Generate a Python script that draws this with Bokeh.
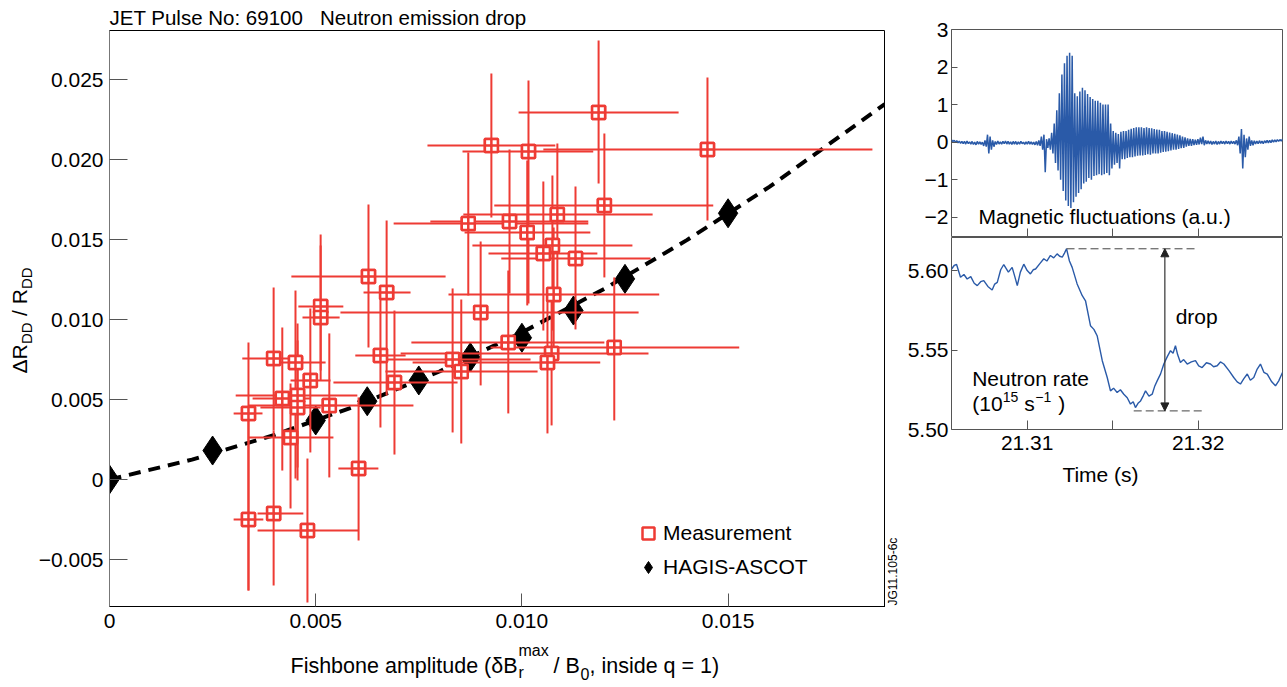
import math
from bokeh.plotting import figure
from bokeh.models import (Range1d, FixedTicker, Label, Legend, LegendItem, Arrow,
                          NormalHead, PrintfTickFormatter)
from bokeh.layouts import row, column
from bokeh.embed import file_html
from bokeh.resources import INLINE

FONT = "Liberation Sans"
RED = "#ee3b34"
BLUE = "#2a5aa8"

# ---------------- main panel data ----------------
meas_x = [0.01186, 0.00926, 0.01016, 0.01450, 0.01200, 0.00870, 0.00970, 0.01086, 0.01013,
          0.01074, 0.01052, 0.01130, 0.01077, 0.00900, 0.01224, 0.01072, 0.01062, 0.00967,
          0.00832, 0.00853, 0.00657, 0.00691, 0.00487, 0.00533, 0.00398, 0.00451, 0.00419,
          0.00456, 0.00456, 0.00337, 0.00439, 0.00604, 0.00337, 0.00398, 0.00480, 0.00512,
          0.00512, 0.00628, 0.00672]
meas_y = [0.02294, 0.02088, 0.02050, 0.02063, 0.01713, 0.01600, 0.01613, 0.01656, 0.01544,
          0.01463, 0.01413, 0.01381, 0.01156, 0.01044, 0.00825, 0.00788, 0.00731, 0.00856,
          0.00750, 0.00675, 0.00775, 0.00606, 0.00619, 0.00463, 0.00756, 0.00731, 0.00506,
          0.00525, 0.00450, 0.00413, 0.00263, 0.00069, -0.00250, -0.00213, -0.00319, 0.01081,
          0.01013, 0.01269, 0.01169]
meas_x_lo = [0.00992, 0.00771, 0.00856, 0.01052, 0.00933, 0.00689, 0.00778, 0.00858, 0.00861,
             0.00880, 0.00919, 0.00950, 0.00822, 0.00560, 0.00924, 0.00706, 0.00735, 0.00732,
             0.00669, 0.00669, 0.00596, 0.00543, 0.00439, 0.00337, 0.00322, 0.00398, 0.00347,
             0.00306, 0.00366, 0.00301, 0.00337, 0.00555, 0.00301, 0.00359, 0.00359, 0.00458,
             0.00468, 0.00441, 0.00616]
meas_x_hi = [0.01380, 0.01081, 0.01173, 0.01850, 0.01464, 0.01161, 0.01161, 0.01317, 0.01166,
             0.01268, 0.01183, 0.01312, 0.01333, 0.01283, 0.01527, 0.01307, 0.01190, 0.01200,
             0.01021, 0.01038, 0.00718, 0.00844, 0.00536, 0.00737, 0.00470, 0.00524, 0.00487,
             0.00601, 0.00512, 0.00371, 0.00543, 0.00652, 0.00373, 0.00470, 0.00604, 0.00567,
             0.00558, 0.00815, 0.00730]
meas_y_lo = [0.01850, 0.01638, 0.01100, 0.01619, 0.01263, 0.01150, 0.01163, 0.01200, 0.01088,
             0.00931, 0.00931, 0.00938, 0.00713, 0.00588, 0.00369, 0.00338, 0.00288, 0.00413,
             0.00294, 0.00225, 0.00325, 0.00156, 0.00169, 0.00013, 0.00306, 0.00006, 0.00056,
             0.00075, -0.00006, -0.00694, -0.00181, -0.00381, -0.00694, -0.00663, -0.00769,
             0.00681, 0.00619, 0.00825, 0.00525]
meas_y_hi = [0.02744, 0.02538, 0.02494, 0.02513, 0.02163, 0.02044, 0.02063, 0.02100, 0.01994,
             0.01900, 0.01863, 0.01831, 0.01575, 0.01488, 0.01263, 0.01181, 0.01119, 0.01306,
             0.01194, 0.01125, 0.01125, 0.01056, 0.01069, 0.00913, 0.01200, 0.01181, 0.00950,
             0.00975, 0.00869, 0.00856, 0.00600, 0.00513, 0.00388, 0.00306, 0.00131, 0.01531,
             0.01463, 0.01719, 0.01619]

sim_x = [0.0, 0.0025, 0.005, 0.00625, 0.0075, 0.00875, 0.010, 0.01125, 0.0125, 0.015]
sim_y = [0.0, 0.00181, 0.00369, 0.00489, 0.00619, 0.00764, 0.00886, 0.01056, 0.01254, 0.01664]

fit_x = [0.0, 0.002, 0.004, 0.006, 0.008, 0.010, 0.012, 0.014, 0.016, 0.0188]
fit_y = [0.0, 0.00124, 0.00278, 0.00462, 0.00675, 0.00919, 0.01192, 0.01496, 0.01829, 0.02346]

main_xticks = [0.0, 0.005, 0.010, 0.015]
main_xlabels = ["0", "0.005", "0.010", "0.015"]
main_yticks = [-0.005, 0.0, 0.005, 0.010, 0.015, 0.020, 0.025]
main_ylabels = ["\u22120.005", "0", "0.005", "0.010", "0.015", "0.020", "0.025"]

# ---------------- inset data ----------------
mag_t0 = 21.30558
mag_dt = 0.00015
mag_hi = [0.06, 0.05, 0.04, 0.03, 0.02, 0.02, 0.03, 0.01, 0.02, 0.0,
          0.02, 0.01, 0.0, 0.05, 0.2, 0.15, 0.05, 0.02, 0.03, 0.01,
          0.02, 0.03, 0.02, 0.01, 0.02, 0.02, 0.01, 0.02, 0.0, 0.01,
          0.02, 0.01, 0.0, 0.02, 0.05, 0.15, 0.2, 0.08, 0.1, 0.25,
          0.5, 0.85, 1.3, 1.8, 2.1, 2.3, 2.38, 2.3, 1.3, 1.22,
          1.35, 1.45, 1.38, 1.28, 1.2, 1.15, 1.1, 1.1, 1.05, 1.0,
          1.0, 1.0, 0.5, 0.3, 0.25, 0.22, 0.28, 0.3, 0.3, 0.33,
          0.36, 0.38, 0.4, 0.4, 0.4, 0.38, 0.4, 0.38, 0.37, 0.35,
          0.34, 0.33, 0.3, 0.3, 0.28, 0.26, 0.24, 0.22, 0.2, 0.18,
          0.15, 0.13, 0.1, 0.09, 0.08, 0.07, 0.08, 0.12, 0.15, 0.05,
          0.04, 0.03, 0.02, 0.03, 0.02, 0.03, 0.02, 0.03, 0.02, 0.03,
          0.02, 0.05, 0.15, 0.35, 0.2, 0.1, 0.15, 0.05, 0.04, 0.03,
          0.04, 0.03, 0.04, 0.05, 0.05, 0.06, 0.06, 0.07, 0.07, 0.08]
mag_lo = [0.02, 0.0, -0.02, -0.03, -0.04, -0.05, -0.04, -0.05, -0.06, -0.07,
          -0.05, -0.06, -0.1, -0.12, -0.3, -0.2, -0.12, -0.06, -0.05, -0.05,
          -0.04, -0.05, -0.05, -0.06, -0.05, -0.06, -0.05, -0.04, -0.06, -0.05,
          -0.05, -0.06, -0.07, -0.08, -0.1, -0.2, -0.8, -0.15, -0.2, -0.3,
          -0.55, -0.75, -1.0, -1.3, -1.55, -1.7, -1.75, -1.6, -1.45, -1.35,
          -1.25, -1.1, -1.05, -0.95, -1.0, -0.9, -0.88, -0.85, -0.88, -0.85,
          -0.82, -0.88, -0.7, -0.6, -0.55, -0.7, -0.45, -0.45, -0.42, -0.4,
          -0.4, -0.38, -0.36, -0.35, -0.35, -0.34, -0.32, -0.33, -0.3, -0.3,
          -0.3, -0.28, -0.26, -0.25, -0.24, -0.22, -0.2, -0.2, -0.18, -0.16,
          -0.15, -0.12, -0.1, -0.1, -0.08, -0.07, -0.06, -0.05, -0.08, -0.05,
          -0.05, -0.06, -0.05, -0.06, -0.05, -0.04, -0.05, -0.04, -0.05, -0.04,
          -0.05, -0.08, -0.3, -0.7, -0.4, -0.2, -0.1, -0.08, -0.05, -0.04,
          -0.03, -0.04, -0.02, -0.02, -0.01, 0.0, 0.01, 0.02, 0.03, 0.04]

neut_t = [21.30558, 21.30573, 21.30587, 21.30610, 21.30630, 21.30649, 21.30670, 21.30690,
          21.30708, 21.30728, 21.30746, 21.30770, 21.30795, 21.30810, 21.30825, 21.30845,
          21.30863, 21.30890, 21.30912, 21.30928, 21.30942, 21.30960, 21.30980, 21.31000,
          21.31019, 21.31035, 21.31049, 21.31075, 21.31097, 21.31115, 21.31136, 21.31155,
          21.31175, 21.31190, 21.31205, 21.31218, 21.31230, 21.31247, 21.31263, 21.31292,
          21.31322, 21.31341, 21.31370, 21.31390, 21.31409, 21.31439, 21.31468, 21.31487,
          21.31505, 21.31526, 21.31545, 21.31565, 21.31585, 21.31604, 21.31620, 21.31633,
          21.31648, 21.31663, 21.31680, 21.31692, 21.31712, 21.31731, 21.31745, 21.31760,
          21.31780, 21.31799, 21.31820, 21.31838, 21.31853, 21.31867, 21.31880, 21.31896,
          21.31915, 21.31936, 21.31960, 21.31984, 21.32003, 21.32023, 21.32048, 21.32072,
          21.32090, 21.32111, 21.32130, 21.32150, 21.32180, 21.32208, 21.32228, 21.32247,
          21.32267, 21.32287, 21.32305, 21.32325, 21.32345, 21.32364, 21.32384, 21.32404,
          21.32430, 21.32452, 21.32471, 21.32493]
neut_v = [5.6010, 5.6032, 5.6038, 5.5958, 5.5975, 5.5947, 5.5962, 5.5920,
          5.5905, 5.5930, 5.5937, 5.5900, 5.5878, 5.5915, 5.5926, 5.6005,
          5.6038, 5.5990, 5.6020, 5.5960, 5.5905, 5.5990, 5.6040, 5.6000,
          5.5979, 5.6005, 5.6010, 5.6045, 5.6074, 5.6060, 5.6095, 5.6080,
          5.6105, 5.6090, 5.6084, 5.6110, 5.6137, 5.6060, 5.6020, 5.5916,
          5.5842, 5.5810, 5.5653, 5.5630, 5.5590, 5.5433, 5.5327, 5.5243,
          5.5260, 5.5233, 5.5250, 5.5222, 5.5200, 5.5160, 5.5175, 5.5138,
          5.5165, 5.5180, 5.5215, 5.5243, 5.5210, 5.5222, 5.5270, 5.5306,
          5.5350, 5.5412, 5.5460, 5.5496, 5.5480, 5.5527, 5.5470, 5.5422,
          5.5440, 5.5412, 5.5425, 5.5433, 5.5400, 5.5390, 5.5420, 5.5412,
          5.5395, 5.5401, 5.5425, 5.5412, 5.5370, 5.5327, 5.5300, 5.5286,
          5.5320, 5.5349, 5.5310, 5.5327, 5.5380, 5.5412, 5.5360, 5.5349,
          5.5300, 5.5275, 5.5306, 5.5359]

drop_hi = 5.6137
drop_lo = 5.5117
drop_hi_t = [21.31230, 21.32000]
drop_lo_t = [21.31623, 21.32033]
drop_arrow_t = 21.31805

mag_yticks = [-2, -1, 0, 1, 2, 3]
mag_ylabels = ["\u22122", "\u22121", "0", "1", "2", "3"]
time_ticks = [21.31, 21.32]
time_minor = [21.315]
neut_yticks = [5.50, 5.55, 5.60]


def style_axis(ax, tick_in, standoff, size="21px", line_color="#555555"):
    ax.major_tick_in = tick_in
    ax.major_tick_out = 0
    ax.minor_tick_in = 0
    ax.minor_tick_out = 0
    ax.minor_tick_line_color = None
    ax.major_label_standoff = standoff
    ax.major_label_text_font = FONT
    ax.major_label_text_font_size = size
    ax.major_label_text_color = "black"
    ax.major_tick_line_color = "#555555"
    ax.axis_line_color = line_color


def lab(p, x, y, text, size=21.0, xo=0.0, yo=0.0, angle=0.0, align="left",
        baseline="alphabetic", screen=False):
    # compensate the renderer's baseline placement (text sits ~0.34 em low)
    s = 0.34 * size if baseline == "alphabetic" else 0.0
    if angle == 0:
        yo += s
    else:
        xo -= s
    units = "screen" if screen else "data"
    p.add_layout(Label(x=x, y=y, text=text, x_offset=xo, y_offset=yo, angle=angle,
                       x_units=units, y_units=units,
                       text_font=FONT, text_font_size=f"{size}px", text_color="black",
                       text_align=align, text_baseline=baseline))


def text_fig(w, h, **kw):
    f = figure(width=w, height=h, min_border=0, min_border_left=0, min_border_right=0,
               min_border_top=0, min_border_bottom=0,
               x_axis_location=None, y_axis_location=None,
               x_range=Range1d(0, 1), y_range=Range1d(0, 1),
               toolbar_location=None, output_backend="svg")
    for k, v in kw.items():
        setattr(f, k, v)
    f.grid.visible = False
    f.outline_line_color = None
    f.background_fill_color = "white"
    f.border_fill_color = "white"
    return f


# ---------------- main figure ----------------
pM = figure(width=850, height=612, min_border_left=74, min_border_right=0,
            min_border_top=0, min_border_bottom=36,
            x_range=Range1d(0, 0.018817), y_range=Range1d(-0.0079375, 0.0280625),
            toolbar_location=None, output_backend="svg")
pM.grid.visible = False
pM.outline_line_color = "black"
pM.background_fill_color = "white"
pM.border_fill_color = "white"

style_axis(pM.xaxis[0], 13, 7, line_color="black")
pM.xaxis[0].ticker = FixedTicker(ticks=main_xticks)
pM.xaxis[0].formatter = PrintfTickFormatter(format="%.3f")
pM.xaxis[0].major_label_overrides = dict(zip(main_xticks, main_xlabels))
style_axis(pM.yaxis[0], 18, 6, line_color="#777777")
pM.yaxis[0].ticker = FixedTicker(ticks=main_yticks)
pM.yaxis[0].formatter = PrintfTickFormatter(format="%.3f")
pM.yaxis[0].major_label_overrides = dict(zip(main_yticks, main_ylabels))

pM.line(fit_x, fit_y, line_color="black", line_width=4, line_dash="12 8")
sim_r = pM.scatter(sim_x, sim_y, marker="diamond", size=29, fill_color="black",
                   line_color="black")
pM.segment(x0=meas_x_lo, y0=meas_y, x1=meas_x_hi, y1=meas_y, line_color=RED, line_width=2)
pM.segment(x0=meas_x, y0=meas_y_lo, x1=meas_x, y1=meas_y_hi, line_color=RED, line_width=2)
meas_r = pM.scatter(meas_x, meas_y, marker="square", size=13, fill_color=None,
                    line_color=RED, line_width=2.5)
pM.scatter(meas_x, meas_y, marker="square_cross", size=13, fill_color="white",
           line_color=RED, line_width=2.5)

legend = Legend(items=[LegendItem(label="Measurement", renderers=[meas_r]),
                       LegendItem(label="HAGIS-ASCOT", renderers=[sim_r])],
                location=(524, 24), glyph_width=30, glyph_height=30, label_height=30,
                spacing=4, padding=0, margin=0, label_standoff=0,
                label_text_font=FONT, label_text_font_size="21px", label_text_color="black",
                border_line_color=None, background_fill_alpha=0)
pM.add_layout(legend)

# title strip
pTitle = text_fig(866, 30)
lab(pTitle, 74, 6, "JET Pulse No: 69100\u00a0\u00a0 Neutron emission drop", size=20.5,
    screen=True)

# x-axis label strip (composite)
pXl = text_fig(866, 43)
xl_x, xl_y = 255, 12
lab(pXl, xl_x, xl_y, "Fishbone amplitude (\u03b4B", size=21.5, screen=True)
lab(pXl, xl_x + 228, xl_y + 18, "max", size=16, screen=True)
lab(pXl, xl_x + 228, xl_y - 4, "r", size=16, screen=True)
lab(pXl, xl_x + 263, xl_y, "/ B", size=21.5, screen=True)
lab(pXl, xl_x + 290, xl_y - 6, "0", size=16, screen=True)
lab(pXl, xl_x + 299, xl_y, ", inside q = 1)", size=21.5, screen=True)

# y-axis label strip (composite, rotated)
pYl = text_fig(35, 685)
ang = math.pi / 2
yl_x, yl_y = 26, 312
lab(pYl, yl_x, yl_y, "\u0394R", size=21, angle=ang, screen=True)
lab(pYl, yl_x + 5, yl_y + 29.5, "DD", size=15, angle=ang, screen=True)
lab(pYl, yl_x, yl_y + 57.5, "/ R", size=21, angle=ang, screen=True)
lab(pYl, yl_x + 5, yl_y + 84.5, "DD", size=15, angle=ang, screen=True)

# figure code strip (its frame shares the main plot's bottom border)
pJG = text_fig(16, 612)
lab(pJG, 12, 1, "JG11.105-6c", size=12, angle=ang, screen=True)

# ---------------- inset figures ----------------
t_range = Range1d(21.305573, 21.324930)

pT = figure(width=385, height=237, min_border_left=50, min_border_right=4,
            min_border_top=29, min_border_bottom=0,
            x_range=t_range, y_range=Range1d(-2.537, 3.0),
            toolbar_location=None, output_backend="svg")
pT.grid.visible = False
pT.outline_line_color = "#555555"
style_axis(pT.xaxis[0], 9, 0, line_color=None)
pT.xaxis[0].ticker = FixedTicker(ticks=[], minor_ticks=time_ticks + time_minor)
pT.xaxis[0].minor_tick_in = 9
pT.xaxis[0].minor_tick_out = 0
pT.xaxis[0].minor_tick_line_color = "#555555"
style_axis(pT.yaxis[0], 6, 3, line_color=None)
pT.yaxis[0].ticker = FixedTicker(ticks=mag_yticks)
pT.yaxis[0].major_label_overrides = dict(zip(mag_yticks, mag_ylabels))

mag_xs, mag_ys = [], []
for k, (hi, lo) in enumerate(zip(mag_hi, mag_lo)):
    t = mag_t0 + k * mag_dt
    mag_xs += [t, t + mag_dt / 2]
    mag_ys += [hi, lo]
pT.line(mag_xs, mag_ys, line_color=BLUE, line_width=1.5)
lab(pT, 21.307152, -2.164, "Magnetic fluctuations (a.u.)", size=21)

pB = figure(width=385, height=222, min_border_left=50, min_border_right=4,
            min_border_top=0, min_border_bottom=30,
            x_range=t_range, y_range=Range1d(5.50, 5.6208),
            toolbar_location=None, output_backend="svg")
pB.grid.visible = False
pB.outline_line_color = "#555555"
style_axis(pB.xaxis[0], 9, 6, line_color=None)
pB.xaxis[0].ticker = FixedTicker(ticks=time_ticks, minor_ticks=time_minor)
pB.xaxis[0].minor_tick_in = 9
pB.xaxis[0].minor_tick_line_color = "#555555"
pB.xaxis[0].formatter = PrintfTickFormatter(format="%.2f")
style_axis(pB.yaxis[0], 6, 3, line_color=None)
pB.yaxis[0].ticker = FixedTicker(ticks=neut_yticks)
pB.yaxis[0].formatter = PrintfTickFormatter(format="%.2f")

pB.line(neut_t, neut_v, line_color=BLUE, line_width=1.4)
pB.line(drop_hi_t, [drop_hi, drop_hi], line_color="#444444", line_width=1, line_dash="8 4")
pB.line(drop_lo_t, [drop_lo, drop_lo], line_color="#444444", line_width=1, line_dash="8 4")
pB.add_layout(Arrow(x_start=drop_arrow_t, y_start=drop_lo, x_end=drop_arrow_t, y_end=drop_hi,
                    line_color="#333333", line_width=1.2,
                    start=NormalHead(size=8, fill_color="#222222", line_color="#222222"),
                    end=NormalHead(size=8, fill_color="#222222", line_color="#222222")))
lab(pB, 21.318684, 5.56648, "drop", size=21)
lab(pB, 21.306784, 5.52767, "Neutron rate", size=21)
lab(pB, 21.306784, 5.51195, "(10", size=21)
lab(pB, 21.306784, 5.51195, "15", size=14, xo=30.5, yo=9)
lab(pB, 21.306784, 5.51195, "s", size=21, xo=52)
lab(pB, 21.306784, 5.51195, "\u22121", size=14, xo=63, yo=9)
lab(pB, 21.306784, 5.51195, ")", size=21, xo=86)

# "Time (s)" strip; its frame is aligned with the inset frames above (x from 951)
pTime = text_fig(385, 50)
lab(pTime, 149, 28, "Time (s)", size=21, align="center", screen=True)

layout = row(pYl,
             column(pTitle, row(pM, pJG), pXl),
             column(pT, pB, pTime))
open("out.html", "w").write(file_html(layout, INLINE))
